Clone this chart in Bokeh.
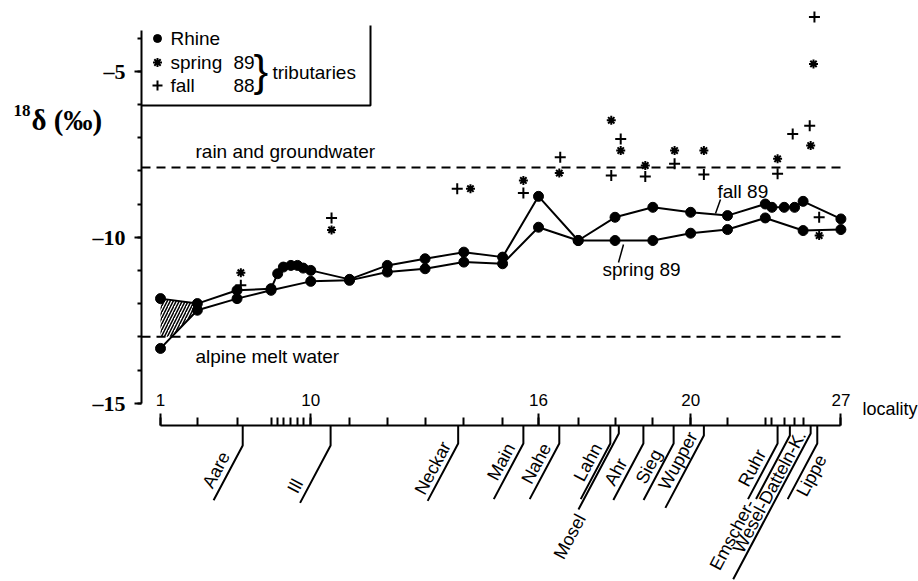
import math
from bokeh.plotting import figure
from bokeh.models import Range1d, FixedTicker, LinearAxis
from bokeh.embed import file_html
from bokeh.resources import INLINE
from bokeh.core.properties import value

NaN = float("nan")

# ---------------- data ----------------
locality_no = list(range(1, 28))
# position of each Rhine locality along the river (km from locality 1)
locality_km = [0, 39, 81, 117, 124, 130, 138, 145, 151, 159, 200, 240, 280, 321,
               362, 400, 442, 481, 521, 561, 600, 640, 647, 660, 671, 680, 720]
labelled_localities = [1, 10, 16, 20, 27]

# Rhine delta-18O (permil)
rhine_spring89 = [-13.35, -12.2, -11.85, -11.6, NaN, NaN, NaN, NaN, NaN, -11.33,
                  -11.3, -11.05, -10.95, -10.75, -10.8, -9.7, -10.1, -10.1, -10.1,
                  -9.88, -9.77, -9.42, NaN, NaN, NaN, -9.8, -9.77]
rhine_fall89 = [-11.85, -12.0, -11.6, -11.55, -11.1, -10.9, -10.85, -10.85, -10.93,
                -11.0, -11.27, -10.85, -10.65, -10.45, -10.6, -8.77, -10.1, -9.4,
                -9.1, -9.25, -9.35, -9.0, -9.1, -9.1, -9.1, -8.92, -9.45]

# tributaries (spring 89 = *, fall 88 = +)
trib_spring89_km = [85, 181, 328, 384, 422, 477, 487, 513, 544, 575, 653, 688, 691, 697]
trib_spring89 = [-11.07, -9.78, -8.54, -8.29, -8.07, -6.48, -7.39, -7.84, -7.39,
                 -7.39, -7.64, -7.24, -4.78, -9.95]
trib_fall88_km = [85, 181, 314, 384, 423, 477, 487, 513, 544, 575, 653, 669, 687, 692, 697]
trib_fall88 = [-11.45, -9.42, -8.54, -8.67, -7.59, -8.14, -7.04, -8.17, -7.79,
               -8.11, -8.09, -6.89, -6.64, -3.37, -9.40]

tributary_names = ["Aare", "Ill", "Neckar", "Main", "Nahe", "Lahn", "Mosel", "Ahr",
                   "Sieg", "Wupper", "Ruhr", "Emscher-", "Wesel-Datteln-K.", "Lippe"]
tributary_km = [87, 180, 315, 384, 422, 476, 485, 511, 543, 575, 653, 666, 688, 695]

rain_groundwater = -7.9
alpine_melt_water = -13.0

y_ticks = [-15, -10, -5]
y_minor_ticks = list(range(-15, -3))

# ---------------- layout helpers (reference pixel -> data) ----------------
KPP = 40 / 37.8          # km per pixel
UPP = 1 / 33.2           # permil per pixel


def X(px):
    return (px - 160) * KPP


def Y(py):
    return -10 - (py - 236.7) * UPP


SANS = "Liberation Sans"
SERIF = "Liberation Serif"
FS = "19px"

p = figure(width=918, height=581, x_range=Range1d(X(0), X(918)),
           y_range=Range1d(Y(581), Y(0)), output_backend="svg",
           toolbar_location=None, min_border=0, x_axis_location=None,
           y_axis_location=None)
p.outline_line_color = None
p.grid.visible = False
p.background_fill_color = "white"
p.border_fill_color = "white"

# ---- y axis (fixed at the chart's left edge) ----
ya = LinearAxis(fixed_location=X(141),
                ticker=FixedTicker(ticks=y_ticks, minor_ticks=y_minor_ticks))
ya.bounds = (-15, Y(30))
ya.axis_line_width = 2
ya.axis_line_color = "black"
ya.major_tick_out = 7
ya.major_tick_in = 0
ya.major_tick_line_width = 2
ya.minor_tick_out = 4
ya.minor_tick_in = 0
ya.minor_tick_line_width = 2
ya.major_label_overrides = {t: "\u2013%d" % abs(t) for t in y_ticks}
ya.major_label_text_font = SERIF
ya.major_label_text_font_style = "bold"
ya.major_label_text_font_size = "22px"
ya.major_label_text_color = "black"
ya.major_label_standoff = 9
p.add_layout(ya, "left")

# ---- locality axis (fixed at the foot of the chart, ticks pointing up) ----
axis_y = Y(425)
xa = LinearAxis(fixed_location=axis_y,
                ticker=FixedTicker(ticks=locality_km, minor_ticks=[]))
xa.bounds = (locality_km[0], locality_km[-1])
xa.axis_line_width = 2
xa.axis_line_color = "black"
xa.major_tick_out = 8
xa.major_tick_in = 0
xa.major_tick_line_width = 2
xa.major_label_text_color = None
p.add_layout(xa, "above")

lab_km = [locality_km[locality_no.index(n)] for n in labelled_localities]
xl = LinearAxis(fixed_location=axis_y,
                ticker=FixedTicker(ticks=lab_km, minor_ticks=[]))
xl.major_label_overrides = {k: str(n) for k, n in zip(lab_km, labelled_localities)}
xl.axis_line_color = None
xl.major_tick_out = 12
xl.major_tick_in = 0
xl.major_tick_line_width = 2
xl.major_label_standoff = 8
xl.major_label_text_font = SANS
xl.major_label_text_font_size = "17px"
xl.major_label_text_color = "black"
p.add_layout(xl, "above")

p.text([X(862)], [Y(408)], text=["locality"], text_font=value(SANS),
       text_font_size="18px", text_baseline="middle", color="black")

# ---- y title ----
p.text([X(13)], [Y(110)], text=["18"], text_font=value(SERIF),
       text_font_style="bold", text_font_size="17px", text_baseline="middle",
       color="black")
p.text([X(31)], [Y(119)], text=["\u03b4 (\u2030)"], text_font=value(SERIF),
       text_font_style="bold", text_font_size="29px", text_baseline="middle",
       color="black")

# ---- reference levels ----
p.line([X(141), locality_km[-1]], [rain_groundwater] * 2, line_width=2,
       line_dash="9 6", color="black")
p.line([X(141), locality_km[-1]], [alpine_melt_water] * 2, line_width=2,
       line_dash="9 6", color="black")
p.text([X(195)], [Y(151)], text=["rain and groundwater"], text_font=value(SANS),
       text_font_size=FS, text_baseline="middle", text_align="left", color="black")
p.text([X(195)], [Y(356)], text=["alpine melt water"], text_font=value(SANS),
       text_font_size=FS, text_baseline="middle", text_align="left", color="black")

# hatched wedge at locality 1 (between the two Rhine values, above melt water)
t = (alpine_melt_water - rhine_spring89[0]) / (rhine_spring89[1] - rhine_spring89[0])
xi = locality_km[0] + t * (locality_km[1] - locality_km[0])
p.patch([locality_km[0], locality_km[1], locality_km[1], xi, locality_km[0]],
        [rhine_fall89[0], rhine_fall89[1], rhine_spring89[1], alpine_melt_water,
         alpine_melt_water],
        fill_color=None, line_color=None, hatch_pattern="/", hatch_color="black",
        hatch_weight=1.5, hatch_scale=6)


def valid(xs, ys):
    pts = [(a, b) for a, b in zip(xs, ys) if not math.isnan(b)]
    return [a for a, _ in pts], [b for _, b in pts]


for series in (rhine_spring89, rhine_fall89):
    sx, sy = valid(locality_km, series)
    p.line(sx, sy, line_width=2, color="black")
    p.scatter(sx, sy, size=10, marker="circle", color="black")

p.scatter(trib_spring89_km, trib_spring89, marker="asterisk", size=9,
          line_width=2, color="black")
p.scatter(trib_fall88_km, trib_fall88, marker="cross", size=11,
          line_width=2, color="black")

# ---- series labels ----
p.text([X(717)], [Y(191)], text=["fall 89"], text_font=value(SANS),
       text_font_size=FS, text_baseline="middle", color="black")
p.line([X(720), X(715)], [Y(199), Y(213)], line_width=1.5, color="black")
p.text([X(602)], [Y(269)], text=["spring 89"], text_font=value(SANS),
       text_font_size=FS, text_baseline="middle", color="black")
p.line([X(623), X(618)], [Y(244), Y(262)], line_width=1.5, color="black")

# ---- legend ----
p.line([X(141), X(370), X(370)], [Y(105), Y(105), Y(25)], line_width=2, color="black")
p.scatter([X(157)], [Y(38)], marker="circle", size=8, color="black")
p.scatter([X(157)], [Y(62)], marker="asterisk", size=9, line_width=2, color="black")
p.scatter([X(157)], [Y(85)], marker="cross", size=10, line_width=2, color="black")
p.text([X(170)] * 3, [Y(38), Y(62), Y(85)], text=["Rhine", "spring", "fall"],
       text_font=value(SANS), text_font_size=FS, text_baseline="middle", color="black")
p.text([X(233)] * 2, [Y(62), Y(85)], text=["89", "88"],
       text_font=value(SANS), text_font_size=FS, text_baseline="middle", color="black")
p.text([X(253)], [Y(70)], text=["}"], text_font=value(SANS),
       text_font_size="44px", text_baseline="middle", color="black")
p.text([X(272)], [Y(72)], text=["tributaries"], text_font=value(SANS),
       text_font_size=FS, text_baseline="middle", color="black")

# ---- tributary key below the locality axis ----
# leader style: (vertical drop px, diagonal length px, text offset px, side, perp px)
leader_style = [(20, 62, 15, "left", 12), (20, 65, 46, "left", 12), (18, 65, 5, "left", 11),
                (18, 63, 7, "left", 11), (18, 63, 7, "left", 11), (18, 63, 7, "left", 11),
                (8, 86, 4, "after", -5), (18, 64, 24, "left", 11), (18, 64, 14, "left", 11),
                (10, 82, 3, "left", 11), (18, 63, 14, "left", 11), (10, 72, 4, "after", 4),
                (8, 165, 3, "left", 9), (18, 63, 9, "right", 10)]

ANG = math.radians(62)
c, s = math.cos(ANG), math.sin(ANG)
lx, ly, tx, ty, tt = [], [], [], [], []
for name, km, (drop, L, off, side, perp) in zip(tributary_names, tributary_km,
                                                leader_style):
    bx, by = km, axis_y - drop * UPP
    ex, ey = km - L * c * KPP, by - L * s * UPP
    lx.append([km, bx, ex])
    ly.append([axis_y, by, ey])
    if side == "right":
        perp = -perp
    if side == "after":
        ax, ay = ex - 4 * c * KPP, ey - 4 * s * UPP
    else:
        ax, ay = bx - off * c * KPP, by - off * s * UPP
    # shift perpendicular to the line: positive = up-left
    tx.append(ax - perp * s * KPP)
    ty.append(ay + perp * c * UPP)
    tt.append(name)

p.multi_line(lx, ly, line_width=2, color="black")
p.text(tx, ty, text=tt, angle=ANG, text_font=value(SANS), text_font_size="18px",
       text_align="right", text_baseline="middle", color="black")

open("out.html", "w").write(file_html(p, INLINE))
